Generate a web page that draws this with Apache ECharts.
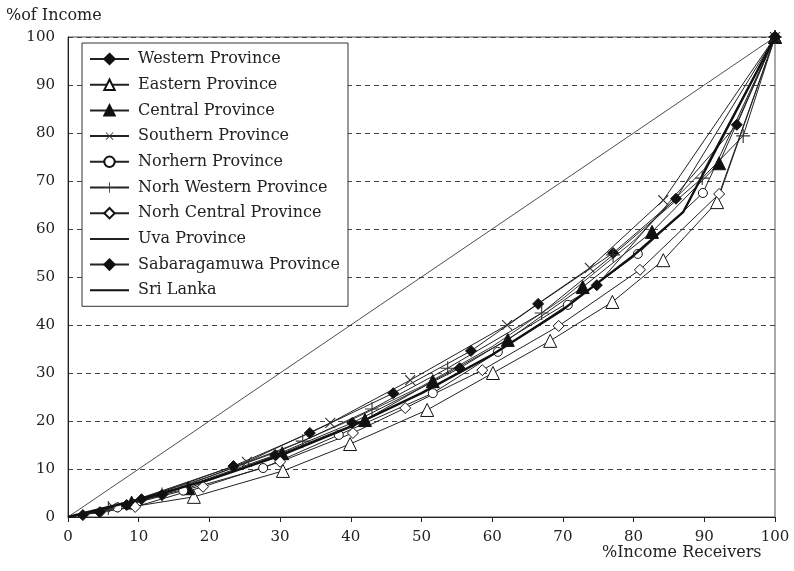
<!DOCTYPE html>
<html>
<head>
<meta charset="utf-8">
<script src="https://cdn.jsdelivr.net/npm/echarts@6/dist/echarts.min.js"></script>
<style>html,body{margin:0;padding:0;background:#fff;}#c{width:794px;height:571px;}</style>
</head>
<body>
<div id="c"></div>
<script>
// Data: [% income receivers, % of income]
var western = [[0,0],[4.5,1.0],[10.4,3.7],[23.4,10.6],[34.2,17.5],[46,25.8],[57,34.6],[66.5,44.4],[77.1,55],[86,66.3],[100,100]];
var eastern = [[0,0],[17.8,4.2],[30.4,9.6],[39.9,15.2],[50.8,22.3],[60.1,30],[68.2,36.7],[77,44.8],[84.2,53.5],[91.8,65.6],[100,100]];
var central = [[0,0],[9,3.0],[17,6.0],[30.3,13.3],[42,20.2],[51.6,28.3],[62.2,36.9],[72.8,47.9],[82.6,59.4],[92.1,73.7],[100,100]];
var southern = [[0,0],[6.4,2.0],[25.3,11.5],[37.1,19.6],[48.4,28.5],[62.1,40],[73.8,51.9],[84.2,66],[100,100]];
var northern = [[0,0],[7,2],[16.3,5.5],[27.6,10.2],[38.3,17.1],[51.6,25.8],[60.8,34.4],[70.7,44.2],[80.6,54.8],[89.8,67.5],[100,100]];
var northWestern = [[0,0],[5.7,1.9],[13.3,4.7],[33.2,15.8],[43,22.5],[53.7,31],[67,42.5],[77.1,54.6],[89.7,70.6],[95.5,79.4],[100,100]];
var northCentral = [[0,0],[9.5,2.1],[19.1,6.3],[30,11.5],[40.3,17.5],[47.7,22.7],[58.6,30.6],[69.4,39.8],[80.9,51.5],[92.1,67.3],[100,100]];
var uva = [[0,0],[10,3.8],[20,8.4],[30,13.8],[40,20.2],[50,27.2],[60,35.5],[70,45.5],[80,57.5],[90,72.5],[100,100]];
var sabaragamuwa = [[0,0],[2.1,0.4],[8.3,2.5],[13.3,4.6],[29.3,12.9],[40.2,19.6],[55.4,31],[74.8,48.3],[94.6,81.7],[100,100]];
var sriLanka = [[0,0],[10,3.6],[20,7.8],[30,12.8],[40,18.8],[50,25.8],[60,33.8],[70,43.2],[80,54.5],[87,63.5],[100,100]];
var equality = [[0,0],[100,100]];
var seriesNames = ['Western Province','Eastern Province','Central Province','Southern Province','Norhern Province','Norh Western Province','Norh Central Province','Uva Province','Sabaragamuwa Province','Sri Lanka'];
var xTicks = [0,10,20,30,40,50,60,70,80,90,100];
var yTicks = [0,10,20,30,40,50,60,70,80,90,100];

var FONT = 'DejaVu Serif';
var PLUS = 'path://M4.6,0H5.4V4.6H10V5.4H5.4V10H4.6V5.4H0V4.6H4.6Z';
var CLEAR = 'rgba(0,0,0,0)';

function pts(arr){
  return arr.map(function(p,i){
    if (i === 0) return {value: p, symbol: 'none'};
    return {value: p};
  });
}
function mk(name, arr, symbol, size, fill, opts){
  var s = {
    name: name, type: 'line', data: pts(arr),
    symbol: symbol, symbolSize: size, showAllSymbol: true,
    lineStyle: {color: '#222', width: 1},
    itemStyle: {color: fill, borderColor: '#111', borderWidth: 1},
    emphasis: {disabled: true}, animation: false, z: 3
  };
  if (opts) for (var k in opts) s[k] = opts[k];
  return s;
}

var chart = echarts.init(document.getElementById('c'), null, {renderer: 'canvas'});
chart.setOption({
  backgroundColor: '#fff',
  animation: false,
  grid: {left: 68, right: 19, top: 37, bottom: 54, show: true, borderColor: '#555', borderWidth: 1},
  xAxis: {
    type: 'value', min: 0, max: 100, interval: 10,
    axisLine: {show: true, lineStyle: {color: '#222', width: 1}},
    axisTick: {show: true, length: 5, inside: false, lineStyle: {color: '#222'}},
    axisLabel: {fontFamily: FONT, fontSize: 15, color: '#222', margin: 13,
      formatter: function(v){ return xTicks.indexOf(v) >= 0 ? String(v) : ''; }},
    splitLine: {show: false}
  },
  yAxis: {
    type: 'value', min: 0, max: 100, interval: 10,
    axisLine: {show: true, lineStyle: {color: '#222', width: 1}},
    axisTick: {show: false},
    axisLabel: {fontFamily: FONT, fontSize: 15, color: '#222', margin: 13,
      formatter: function(v){ return yTicks.indexOf(v) >= 0 ? String(v) : ''; }},
    splitLine: {show: true, lineStyle: {color: '#444', type: [5, 4], width: 1}}
  },
  legend: {
    data: seriesNames,
    orient: 'vertical', left: 82, top: 43,
    backgroundColor: '#fff', borderColor: '#333', borderWidth: 1,
    padding: [8, 8, 8, 7],
    itemWidth: 39, itemHeight: 13, itemGap: 9.7,
    textStyle: {fontFamily: FONT, fontSize: 16, color: '#222', padding: [0, 0, 0, 4]}
  },
  graphic: [
    {type: 'text', left: 6, top: 8, style: {text: '%of Income', font: '16px "DejaVu Serif"', fill: '#222'}},
    {type: 'text', left: 602, top: 545, style: {text: '%Income Receivers', font: '16px "DejaVu Serif"', fill: '#222'}}
  ],
  series: [
    {name: 'Equality', type: 'line', data: equality, symbol: 'none', lineStyle: {color: '#222', width: 0.8}, z: 2, animation: false, emphasis: {disabled: true}},
    mk(seriesNames[0], western, 'diamond', 11, '#111'),
    mk(seriesNames[1], eastern, 'triangle', 13, '#fff'),
    mk(seriesNames[2], central, 'triangle', 13, '#111'),
    mk(seriesNames[3], southern, PLUS, 14, '#333', {symbolRotate: 45, itemStyle: {color: '#333', borderWidth: 0}}),
    mk(seriesNames[4], northern, 'circle', 9, '#fff'),
    mk(seriesNames[5], northWestern, PLUS, 14, '#333', {itemStyle: {color: '#333', borderWidth: 0}}),
    mk(seriesNames[6], northCentral, 'diamond', 11, '#fff'),
    mk(seriesNames[7], uva, 'circle', 0, CLEAR, {lineStyle: {color: '#222', width: 0.9}, itemStyle: {color: CLEAR, borderColor: CLEAR, borderWidth: 0}}),
    mk(seriesNames[8], sabaragamuwa, 'diamond', 11, '#111'),
    mk(seriesNames[9], sriLanka, 'circle', 0, CLEAR, {lineStyle: {color: '#111', width: 2.4}, itemStyle: {color: CLEAR, borderColor: CLEAR, borderWidth: 0}, z: 4})
  ]
});
</script>
</body>
</html>
